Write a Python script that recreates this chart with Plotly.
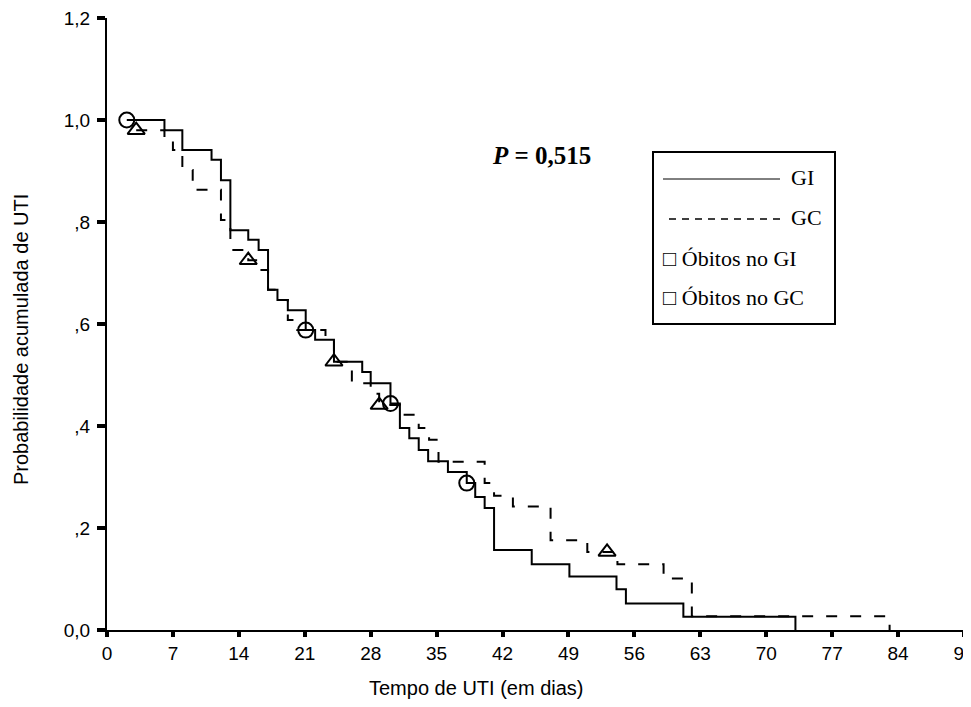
import plotly.graph_objects as go

# ---------------- data ----------------
gi_days = [2.1, 6.1, 8.0, 11.1, 12.1, 13.1, 15.0, 16.1, 17.1, 18.1, 19.2, 21.1, 22.1,
           24.1, 27.1, 28.0, 30.1, 31.1, 32.1, 33.1, 34.1, 36.2, 38.2, 39.1, 40.1,
           41.1, 45.1, 49.1, 54.1, 55.1, 61.2, 73.1]
gi_surv = [1.000, 0.980, 0.941, 0.922, 0.882, 0.784, 0.765, 0.745, 0.667, 0.647, 0.627,
           0.588, 0.569, 0.526, 0.506, 0.484, 0.444, 0.396, 0.376, 0.353, 0.331, 0.310,
           0.288, 0.261, 0.239, 0.157, 0.129, 0.105, 0.080, 0.052, 0.026, 0.000]

gc_days = [3.1, 6.1, 7.0, 8.0, 9.1, 12.1, 13.1, 15.0, 16.1, 17.1, 18.1, 19.2, 20.2,
           23.2, 24.1, 26.0, 28.0, 28.9, 31.1, 33.1, 34.2, 35.2, 40.1, 41.1, 43.1,
           47.1, 51.0, 54.2, 59.1, 62.1, 83.1]
gc_surv = [0.980, 0.961, 0.941, 0.902, 0.863, 0.804, 0.745, 0.725, 0.706, 0.667, 0.647,
           0.608, 0.588, 0.569, 0.526, 0.484, 0.463, 0.441, 0.422, 0.396, 0.373, 0.330,
           0.288, 0.263, 0.242, 0.176, 0.153, 0.129, 0.101, 0.027, 0.000]

gi_death_days = [2.1, 21.1, 30.1, 38.2]
gi_death_surv = [1.000, 0.588, 0.444, 0.288]
gc_death_days = [3.1, 15.0, 24.1, 28.9, 53.1]
gc_death_surv = [0.980, 0.725, 0.526, 0.441, 0.153]

x_ticks = [0, 7, 14, 21, 28, 35, 42, 49, 56, 63, 70, 77, 84, 91]
y_ticks = [0.0, 0.2, 0.4, 0.6, 0.8, 1.0, 1.2]
y_tick_labels = ["0,0", ",2", ",4", ",6", ",8", "1,0", "1,2"]

legend_labels = ["GI", "GC", "\u25a1 \u00d3bitos no GI", "\u25a1 \u00d3bitos no GC"]
p_text = "<b><i>P</i> = 0,515</b>"
x_title = "Tempo de UTI (em dias)"
y_title = "Probabilidade acumulada de UTI"

# ---------------- layout geometry (page pixels) ----------------
OFF = 8                      # default body margin of the html page
PAGE_W, PAGE_H = 971, 707
W, H = PAGE_W - OFF, PAGE_H - OFF
X0_PAGE, X1_PAGE = 107, 964  # plot area left/right in page pixels
Y0_PAGE, Y1_PAGE = 18, 630   # plot area top/bottom in page pixels
ML = X0_PAGE - OFF
MT = Y0_PAGE - OFF
MR = PAGE_W - X1_PAGE
MB = PAGE_H - Y1_PAGE
PW = X1_PAGE - X0_PAGE
PH = Y1_PAGE - Y0_PAGE


def px(p):
    return (p - X0_PAGE) / PW


def py(p):
    return (Y1_PAGE - p) / PH


SANS = "Liberation Sans, Arial, sans-serif"
SERIF = "Liberation Serif, Times New Roman, serif"

fig = go.Figure()

fig.add_trace(go.Scatter(x=gi_days, y=gi_surv, mode="lines", line_shape="hv",
                         line=dict(color="black", width=2), showlegend=False,
                         hoverinfo="skip"))
fig.add_trace(go.Scatter(x=gc_days, y=gc_surv, mode="lines", line_shape="hv",
                         line=dict(color="black", width=2, dash="11px,13px"),
                         showlegend=False, hoverinfo="skip"))
fig.add_trace(go.Scatter(x=gi_death_days, y=gi_death_surv, mode="markers",
                         marker=dict(symbol="circle-open", size=15, color="black",
                                     line=dict(width=2, color="black")),
                         showlegend=False, hoverinfo="skip"))
fig.add_trace(go.Scatter(x=gc_death_days, y=gc_death_surv, mode="markers",
                         marker=dict(symbol="triangle-up-open", size=15, color="black",
                                     line=dict(width=2, color="black")),
                         showlegend=False, hoverinfo="skip"))

shapes = [
    dict(type="rect", xref="paper", yref="paper", x0=px(653), x1=px(835),
         y0=py(152), y1=py(324), line=dict(color="black", width=2)),
    dict(type="line", xref="paper", yref="paper", x0=px(663), x1=px(780),
         y0=py(179), y1=py(179), line=dict(color="black", width=1)),
    dict(type="line", xref="paper", yref="paper", x0=px(669), x1=px(786),
         y0=py(219), y1=py(219), line=dict(color="black", width=1.5, dash="7px,6px")),
]

LEG_FONT = dict(family=SERIF, size=22, color="black")
annotations = [
    dict(text=legend_labels[0], x=px(789), y=py(178), xref="paper", yref="paper",
         xanchor="left", yanchor="middle", showarrow=False, font=LEG_FONT),
    dict(text=legend_labels[1], x=px(789), y=py(218), xref="paper", yref="paper",
         xanchor="left", yanchor="middle", showarrow=False, font=LEG_FONT),
    dict(text=legend_labels[2], x=px(661), y=py(258), xref="paper", yref="paper",
         xanchor="left", yanchor="middle", showarrow=False, font=LEG_FONT),
    dict(text=legend_labels[3], x=px(661), y=py(297), xref="paper", yref="paper",
         xanchor="left", yanchor="middle", showarrow=False, font=LEG_FONT),
    dict(text=p_text, x=px(541), y=py(155), xref="paper", yref="paper",
         xanchor="center", yanchor="middle", showarrow=False,
         font=dict(family=SERIF, size=25, color="black")),
    dict(text=x_title, x=px(476), y=py(688), xref="paper", yref="paper",
         xanchor="center", yanchor="middle", showarrow=False,
         font=dict(family=SANS, size=20, color="black")),
    dict(text=y_title, x=px(21), y=py(340), xref="paper", yref="paper",
         xanchor="center", yanchor="middle", showarrow=False, textangle=-90,
         font=dict(family=SANS, size=20, color="black")),
]

fig.update_layout(
    width=W, height=H,
    margin=dict(l=ML, r=MR, t=MT, b=MB, pad=0, autoexpand=False),
    paper_bgcolor="white", plot_bgcolor="white",
    shapes=shapes, annotations=annotations,
    showlegend=False,
    xaxis=dict(range=[0, 91], tickvals=x_ticks, ticktext=[str(v) for v in x_ticks],
               showgrid=False, zeroline=False, showline=True, linecolor="black",
               linewidth=2, ticks="outside", ticklen=5, tickwidth=4, tickcolor="black",
               ticklabeloverflow="allow", automargin=False,
               tickfont=dict(family=SANS, size=19, color="black")),
    yaxis=dict(range=[0, 1.2], tickvals=y_ticks, ticktext=y_tick_labels,
               showgrid=False, zeroline=False, showline=True, linecolor="black",
               linewidth=2, ticks="outside", ticklen=8, tickwidth=4, tickcolor="black",
               ticklabelstandoff=3, automargin=False, ticklabeloverflow="allow",
               tickfont=dict(family=SANS, size=19, color="black")),
)

fig.write_html("out.html")
